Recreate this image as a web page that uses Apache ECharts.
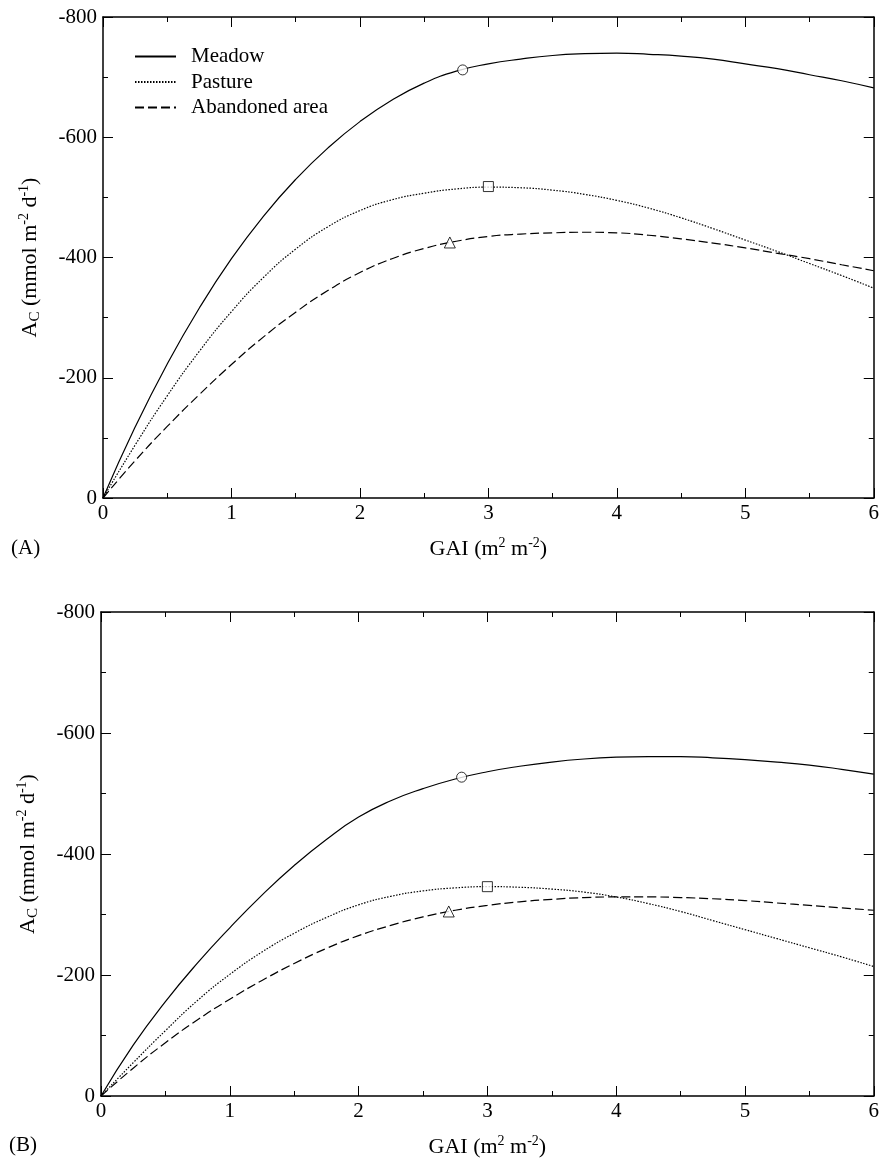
<!DOCTYPE html>
<html>
<head>
<meta charset="utf-8">
<script src="https://cdn.jsdelivr.net/npm/echarts@6/dist/echarts.min.js"></script>
<style>
  html, body { margin: 0; padding: 0; background: #fff; }
  #chart { width: 882px; height: 1159px; }
</style>
</head>
<body>
<div id="chart"></div>
<script>
// GAI values shared by every curve
const gai = [0, 0.25, 0.5, 0.75, 1, 1.25, 1.5, 1.75, 2, 2.25, 2.5, 2.75, 3, 3.25, 3.5, 3.75, 4, 4.25, 4.5, 4.75, 5, 5.25, 5.5, 5.75, 6]

// panel (A)
const meadowA = [0, -118, -223, -316, -398, -469, -530, -582, -626, -662, -690, -710, -722, -730, -736, -739, -740, -738, -735, -730, -722, -714, -704, -694, -682]
const pastureA = [0, -88, -170, -244, -310, -367, -414, -451, -478, -496, -507, -514, -517, -516, -512, -505, -495, -482, -466, -448, -429, -410, -390, -370, -349]
const abandonedA = [0, -62, -119, -172, -222, -268, -309, -345, -375, -398, -415, -427, -435, -439, -441, -442, -441, -437, -431, -424, -416, -407, -398, -388, -378]

// panel (B)
const meadowB = [0, -84, -156, -220, -278, -332, -381, -424, -461, -488, -508, -524, -536, -545, -552, -557, -560, -561, -561, -559, -556, -552, -547, -540, -532]
const pastureB = [0, -55, -108, -158, -201, -238, -269, -295, -316, -330, -339, -344, -346, -345, -342, -337, -329, -318, -305, -290, -275, -260, -245, -230, -214]
const abandonedB = [0, -46, -88, -126, -160, -191, -219, -244, -265, -282, -296, -307, -315, -321, -325, -328, -329, -329, -328, -326, -323, -319, -315, -311, -307]

// open markers: [GAI, A_C]
const markersA = { circle: [2.8, -712], rect: [3, -518], triangle: [2.7, -425] }
const markersB = { circle: [2.8, -527], rect: [3, -346], triangle: [2.7, -305] }

const xTicks = { min: 0, max: 6, interval: 1 }
const yTicks = { min: -800, max: 0, interval: 200 }

const font = 'Liberation Serif'
const names = ['Meadow', 'Pasture', 'Abandoned area']
const lineTypes = ['solid', [1.5, 1.5], [9, 4]]

const pair = (vals) => gai.map((x, i) => [x, vals[i]])

const chart = echarts.init(document.getElementById('chart'))

const lineStyle = { color: '#000', width: 1.5 }

function xAxis(grid, bottom) {
  return {
    type: 'value',
    gridIndex: grid,
    position: bottom ? 'bottom' : 'top',
    ...xTicks,
    axisLine: { show: true, onZero: false, lineStyle },
    axisTick: { show: true, inside: true, length: 10, lineStyle: { color: '#000', width: 1 } },
    minorTick: { show: true, splitNumber: 2, length: 5, lineStyle: { color: '#000', width: 1 } },
    splitLine: { show: false },
    axisLabel: { show: bottom, color: '#000', fontFamily: font, fontSize: 21, margin: 5 },
    name: bottom ? '{a|GAI (m}{sup|2}{a| m}{sup|-2}{a|)}' : '',
    nameLocation: 'middle',
    nameGap: 38,
    nameTextStyle: {
      rich: {
        a: { fontFamily: font, fontSize: 22, color: '#000', lineHeight: 24, verticalAlign: 'bottom' },
        sup: { fontFamily: font, fontSize: 14, color: '#000', lineHeight: 24, verticalAlign: 'top' },
      },
    },
  }
}

function yAxis(grid, left) {
  return {
    type: 'value',
    gridIndex: grid,
    position: left ? 'left' : 'right',
    inverse: true,
    ...yTicks,
    axisLine: { show: true, onZero: false, lineStyle },
    axisTick: { show: true, inside: true, length: 10, lineStyle: { color: '#000', width: 1 } },
    minorTick: { show: true, splitNumber: 2, length: 5, lineStyle: { color: '#000', width: 1 } },
    splitLine: { show: false },
    axisLabel: { show: left, color: '#000', fontFamily: font, fontSize: 21, margin: 6 },
    name: left ? '{a|A}{sub|C}{a| (mmol m}{sup|-2}{a| d}{sup|-1}{a|)}' : '',
    nameLocation: 'middle',
    nameRotate: 90,
    nameGap: 60,
    nameTextStyle: {
      rich: {
        a: { fontFamily: font, fontSize: 22, color: '#000', lineHeight: 26, verticalAlign: 'middle' },
        sup: { fontFamily: font, fontSize: 14, color: '#000', lineHeight: 26, verticalAlign: 'top' },
        sub: { fontFamily: font, fontSize: 15, color: '#000', lineHeight: 26, verticalAlign: 'bottom' },
      },
    },
  }
}

function panelSeries(idx, curves, markers) {
  const out = curves.map((vals, i) => ({
    name: names[i],
    type: 'line',
    xAxisIndex: idx * 2,
    yAxisIndex: idx * 2,
    data: pair(vals),
    smooth: 0.5,
    symbol: 'none',
    silent: true,
    lineStyle: { color: '#000', width: 1.2, type: lineTypes[i] },
    itemStyle: { color: '#000' },
    z: 2,
  }))
  Object.entries(markers).forEach(([shape, pt]) => {
    out.push({
      type: 'scatter',
      xAxisIndex: idx * 2,
      yAxisIndex: idx * 2,
      data: [pt],
      symbol: shape,
      symbolSize: shape === 'triangle' ? 11 : 10,
      silent: true,
      itemStyle: { color: '#fff', borderColor: '#000', borderWidth: 1 },
      z: 5,
    })
  })
  return out
}

const options = {
  animation: false,
  backgroundColor: '#fff',
  grid: [
    { left: 103, top: 17, width: 772, height: 481 },
    { left: 101, top: 612, width: 776, height: 485 },
  ],
  xAxis: [xAxis(0, true), xAxis(0, false), xAxis(1, true), xAxis(1, false)],
  yAxis: [yAxis(0, true), yAxis(0, false), yAxis(1, true), yAxis(1, false)],
  legend: {
    data: names,
    orient: 'vertical',
    left: 134,
    top: 46,
    padding: 0,
    itemWidth: 41,
    itemHeight: 12,
    itemGap: 4.5,
    selectedMode: false,
    itemStyle: { opacity: 0 },
    textStyle: { fontFamily: font, fontSize: 21, lineHeight: 20, color: '#000', padding: [0, 0, 0, 10] },
  },
  graphic: [
    { type: 'text', left: 11, top: 538, style: { text: '(A)', font: '21px "Liberation Serif"', fill: '#000' } },
    { type: 'text', left: 9, top: 1135, style: { text: '(B)', font: '21px "Liberation Serif"', fill: '#000' } },
  ],
  series: [
    ...panelSeries(0, [meadowA, pastureA, abandonedA], markersA),
    ...panelSeries(1, [meadowB, pastureB, abandonedB], markersB),
  ],
}

chart.setOption(options)
</script>
</body>
</html>
